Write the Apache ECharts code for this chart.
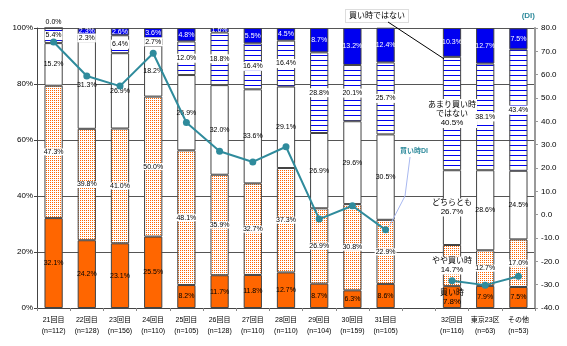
<!DOCTYPE html>
<html><head><meta charset="utf-8">
<script src="https://cdn.jsdelivr.net/npm/echarts@6/dist/echarts.min.js"></script>
<style>html,body{margin:0;padding:0;background:#fff}#c{width:567px;height:346px}</style>
</head><body><div id="c"></div>
<script>
const categories = ['21回目\n(n=112)','22回目\n(n=128)','23回目\n(n=156)','24回目\n(n=110)','25回目\n(n=105)','26回目\n(n=128)','27回目\n(n=110)','28回目\n(n=110)','29回目\n(n=104)','30回目\n(n=159)','31回目\n(n=105)','','32回目\n(n=116)','東京23区\n(n=63)','その他\n(n=53)'];
const seriesNames = ['買い時','やや買い時','どちらとも','あまり買い時ではない','買い時ではない'];
const kaidoki      = [32.1,24.2,23.1,25.5, 8.2,11.7,11.8,12.7, 8.7, 6.3, 8.6,null, 7.8, 7.9, 7.5];
const yayaKaidoki  = [47.3,39.8,41.0,50.0,48.1,35.9,32.7,37.3,26.9,30.8,22.9,null,14.7,12.7,17.0];
const dochiraTomo  = [15.2,31.3,26.9,18.2,26.9,32.0,33.6,29.1,26.9,29.6,30.5,null,26.7,28.6,24.5];
const amariNai     = [ 5.4, 2.3, 6.4, 2.7,12.0,18.8,16.4,16.4,28.8,20.1,25.7,null,40.5,38.1,43.4];
const kaidokiNai   = [ 0.0, 2.3, 2.6, 3.6, 4.8, 1.6, 5.5, 4.5, 8.7,13.2,12.4,null,10.3,12.7, 7.5];
const diValues     = [74.0,59.4,55.1,69.2,39.5,27.2,22.6,29.1,-1.9, 3.8,-6.5,null,-28.3,-30.2,-26.4];
const leftTicks = [0,20,40,60,80,100];
const rightTicks = [-40,-30,-20,-10,0,10,20,30,40,50,60,70,80];
const DI_NAME = '買い時DI';
const HIGHLIGHT = 12; // 32回目

const FONT = '"Liberation Sans","Noto Sans CJK JP",sans-serif';
const ORANGE = '#ff6600', BLUE = '#0000f0', TEAL = '#2f8b9c';

function dotPattern(){
  const c = document.createElement('canvas'); c.width = 2; c.height = 2;
  const g = c.getContext('2d'); g.fillStyle = '#fff'; g.fillRect(0,0,2,2);
  g.fillStyle = ORANGE; g.fillRect(0,0,1,1);
  return {image:c, repeat:'repeat'};
}
function stripePattern(){
  const c = document.createElement('canvas'); c.width = 4; c.height = 5;
  const g = c.getContext('2d'); g.fillStyle = '#fff'; g.fillRect(0,0,4,5);
  g.fillStyle = BLUE; g.fillRect(0,0,4,1);
  return {image:c, repeat:'repeat'};
}

const baseLabel = {show:true, position:'inside', fontSize:7, fontFamily:FONT, color:'#000',
  formatter: p => p.value==null ? '' : p.value.toFixed(1)+'%'};

const specs = [
  {data:kaidoki, color:ORANGE, label:{}},
  {data:yayaKaidoki, color:dotPattern(), label:{backgroundColor:'#fff', padding:[0,1]}},
  {data:dochiraTomo, color:'#fff', label:{}},
  {data:amariNai, color:stripePattern(), label:{backgroundColor:'#fff', padding:[1,1]}},
  {data:kaidokiNai, color:BLUE, label:{color:'#fff'}}
];
const hiNames = ['買い時','やや買い時','どちらとも','あまり買い時\nではない',null];

const barSeries = specs.map((s,si)=>({
  name: seriesNames[si], type:'bar', stack:'all', yAxisIndex:0, barWidth:'55%',
  itemStyle:{color:s.color, borderColor:'#444', borderWidth:1},
  label:Object.assign({}, baseLabel, s.label),
  z: 2,
  data: s.data.map((v,i)=>{
    if(v===0) return {value:v, label:{position:'top', distance:2, color:'#000', backgroundColor:'transparent'}};
    if(i===HIGHLIGHT && hiNames[si]) return {value:v, label:{
      formatter: p => hiNames[si] + '\n' + p.value.toFixed(1)+'%', fontSize:8, lineHeight:9,
      backgroundColor: si===0 ? 'transparent' : '#fff', color:'#000'}};
    return v;
  })
}));

const lineSeries = {
  name: DI_NAME, type:'line', yAxisIndex:1, data:diValues, connectNulls:false,
  symbol:'circle', symbolSize:7, z:5,
  lineStyle:{color:TEAL, width:2}, itemStyle:{color:TEAL}
};

const chart = echarts.init(document.getElementById('c'));
const option = {
  animation:false,
  grid:{left:37, right:32, top:28, bottom:38},
  xAxis:{type:'category', data:categories,
    axisLine:{lineStyle:{color:'#444'}}, axisTick:{show:true, length:3, lineStyle:{color:'#888'}},
    axisLabel:{fontSize:7, fontFamily:FONT, color:'#000', interval:0, lineHeight:11, margin:7}},
  yAxis:[
    {type:'value', min:leftTicks[0], max:leftTicks[leftTicks.length-1], interval:20,
     axisLine:{show:true, lineStyle:{color:'#444'}}, axisTick:{show:true, length:3, lineStyle:{color:'#444'}},
     splitLine:{lineStyle:{color:'#555', width:1}},
     axisLabel:{fontSize:8, fontFamily:FONT, color:'#000', formatter:v=>v+'%', margin:4}},
    {type:'value', min:rightTicks[0], max:rightTicks[rightTicks.length-1], interval:10, position:'right',
     name:'(DI)', nameLocation:'end', nameGap:8,
     nameTextStyle:{color:TEAL, fontSize:8, fontWeight:'bold', fontFamily:FONT, align:'right', padding:[0,0,0,0]},
     axisLine:{show:true, lineStyle:{color:'#999', width:2}}, axisTick:{show:true, length:3, lineStyle:{color:'#999'}},
     splitLine:{show:false},
     axisLabel:{fontSize:8, fontFamily:FONT, color:'#000', formatter:v=>v.toFixed(1), margin:6}}
  ],
  series: barSeries.concat([lineSeries])
};
chart.setOption(option);

// annotations
const cat32 = categories[HIGHLIGHT];
const topBlock = chart.convertToPixel({xAxisIndex:0, yAxisIndex:0}, [cat32, 100 - kaidokiNai[HIGHLIGHT]]);
const di31 = chart.convertToPixel({xAxisIndex:0, yAxisIndex:1}, [categories[10], diValues[10]]);
chart.setOption({graphic:[
  {type:'text', left:345, top:9, z:10,
   style:{text:'買い時ではない', fontSize:8, fontFamily:FONT, fill:'#000', backgroundColor:'#fff',
     borderColor:'#ddd', borderWidth:1, padding:[2,3]}},
  {type:'line', z:10, shape:{x1:388, y1:22, x2:topBlock[0]-8, y2:topBlock[1]+2},
   style:{stroke:'#000', lineWidth:1}},
  {type:'text', left:400, top:148, z:10,
   style:{text:DI_NAME, fontSize:7, fontWeight:'bold', fontFamily:FONT, fill:TEAL}},
  {type:'polyline', z:10, shape:{points:[[410,157],[405,196],[di31[0]+4, di31[1]-4]]},
   style:{stroke:'#a8b8f0', lineWidth:1, fill:null}}
]});
</script></body></html>
